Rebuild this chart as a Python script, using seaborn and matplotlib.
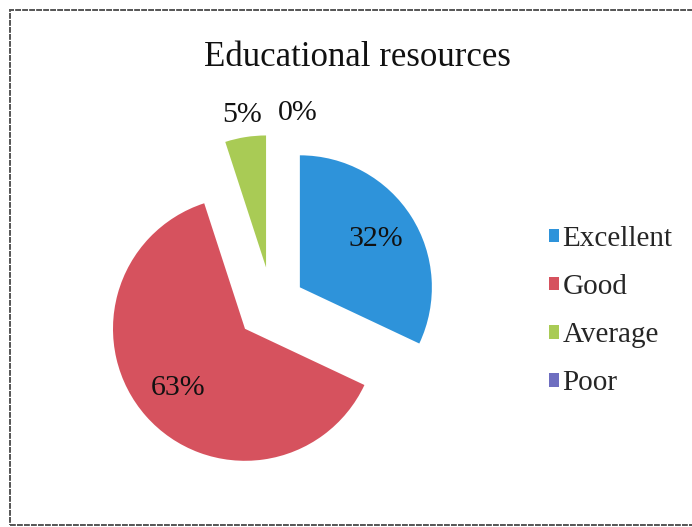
import matplotlib
matplotlib.use("Agg")
import matplotlib.pyplot as plt
import seaborn as sns
import numpy as np

categories = ["Excellent", "Good", "Average", "Poor"]
values = [32, 63, 5, 0]
colors = ["#2E93DA", "#D6525E", "#A9CB55", "#6E6EC0"]
title = "Educational resources"

sns.set_theme(style="white")
plt.rcParams["font.family"] = ["Liberation Serif", "DejaVu Serif"]

W, H = 692, 527
fig = plt.figure(figsize=(W / 100, H / 100), dpi=100)
ax = fig.add_axes([0, 0, 1, 1])

center = (272, H - 305)
radius = 132
explode = [33, 36, 38, 38]

wedges, texts, autotexts = ax.pie(
    values, colors=colors, startangle=90, counterclock=False,
    center=center, radius=radius, explode=explode,
    autopct="%.0f%%", pctdistance=0.68,
    wedgeprops=dict(linewidth=0),
    textprops=dict(fontsize=21.5, color="#111111"),
)

# move small-slice labels outside the pie
for w, t, v in zip(wedges, autotexts, values):
    if v < 10:
        th = np.deg2rad((w.theta1 + w.theta2) / 2)
        cx, cy = w.center
        t.set_position((cx + 1.17 * radius * np.cos(th), cy + 1.17 * radius * np.sin(th)))
# zero slice label sits to the right of the 5% label
autotexts[3].set_position((298, H - 113))

ax.set_xlim(0, W)
ax.set_ylim(0, H)
ax.set_aspect("equal")
ax.axis("off")

ax.text(357, H - 58, title, ha="center", va="center", fontsize=25, color="#111111")

leg = ax.legend(
    wedges, categories, loc="upper left", bbox_to_anchor=(549, H - 226),
    bbox_transform=ax.transData, frameon=False, fontsize=21,
    handlelength=0.34, handleheight=0.34, handletextpad=0.12,
    labelspacing=0.76, borderpad=0, borderaxespad=0,
)

ax.add_patch(plt.Rectangle((10, 2), 700, H - 12, fill=False,
                           edgecolor="#555555", linewidth=1.4, linestyle=(0, (3, 0.6))))

fig.savefig("out.png", dpi=100)
